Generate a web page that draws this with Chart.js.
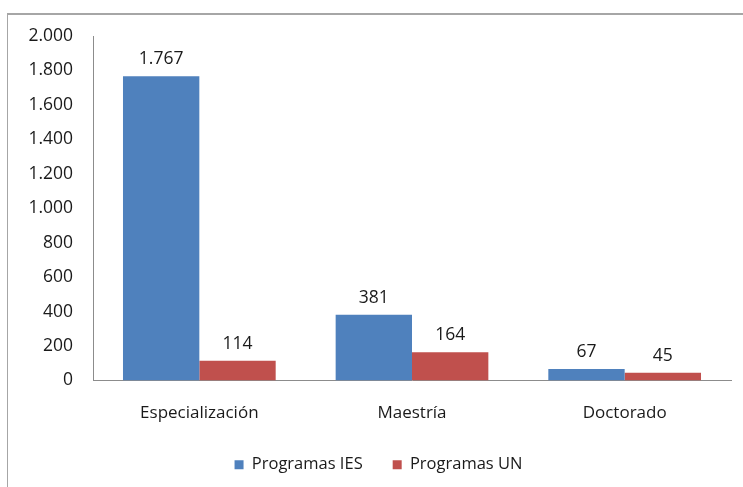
<!DOCTYPE html>
<html>
<head>
<meta charset="utf-8">
<script src="https://cdn.jsdelivr.net/npm/chart.js@4/dist/chart.umd.min.js"></script>
<style>
  html, body { margin: 0; padding: 0; background: #fff; }
  #wrap { position: relative; width: 743px; height: 487px; }
  #frame { position: absolute; left: 7px; top: 13px; width: 760px; height: 500px;
           border-left: 1px solid #a6a6a6; border-top: 2px solid #a6a6a6; }
  canvas { position: absolute; left: 0; top: 0; }
</style>
</head>
<body>
<div id="wrap">
  <div id="frame"></div>
  <canvas id="chart" width="743" height="487"></canvas>
</div>
<script>
const categories = ["Especialización", "Maestría", "Doctorado"];
const programasIES = [1767, 381, 67];
const programasUN = [114, 164, 45];
const yTicks = [0, 200, 400, 600, 800, 1000, 1200, 1400, 1600, 1800, 2000];

function fmt(n) {
  return String(n).replace(/\B(?=(\d{3})+(?!\d))/g, ".");
}

const FONT = "'Open Sans', 'DejaVu Sans', sans-serif";

const valueLabels = {
  id: "valueLabels",
  afterDatasetsDraw(chart) {
    const ctx = chart.ctx;
    ctx.save();
    ctx.font = "17.5px " + FONT;
    ctx.fillStyle = "#1a1a1a";
    ctx.textAlign = "center";
    ctx.textBaseline = "bottom";
    chart.data.datasets.forEach((ds, i) => {
      chart.getDatasetMeta(i).data.forEach((bar, j) => {
        ctx.fillText(fmt(ds.data[j]), bar.x, bar.y - 8);
      });
    });
    ctx.restore();
  }
};

new Chart(document.getElementById("chart"), {
  type: "bar",
  data: {
    labels: categories,
    datasets: [
      { label: "Programas IES", data: programasIES, backgroundColor: "#4f81bd" },
      { label: "Programas UN", data: programasUN, backgroundColor: "#c0504d" }
    ]
  },
  options: {
    responsive: false,
    animation: false,
    layout: { padding: { top: 36, right: 12, left: 26, bottom: 4 } },
    datasets: { bar: { categoryPercentage: 0.718, barPercentage: 1.0 } },
    scales: {
      x: {
        grid: { display: false, drawTicks: false },
        border: { color: "#8c8c8c" },
        ticks: { color: "#1a1a1a", font: { size: 17, family: FONT }, padding: 22 },
        afterFit(s) { s.height = 46; }
      },
      y: {
        min: 0, max: 2000,
        afterBuildTicks(s) { s.ticks = yTicks.map(v => ({ value: v })); },
        grid: { display: false, drawTicks: false },
        border: { color: "#8c8c8c" },
        ticks: { color: "#1a1a1a", font: { size: 17.5, family: FONT }, padding: 20,
                 callback: v => fmt(v) },
        afterFit(s) { s.width = 67; }
      }
    },
    plugins: {
      legend: {
        position: "bottom",
        labels: { color: "#1a1a1a", font: { size: 16.5, family: FONT },
                  boxWidth: 9, boxHeight: 9, padding: 30 }
      },
      tooltip: { enabled: false }
    }
  },
  plugins: [valueLabels]
});
</script>
</body>
</html>
